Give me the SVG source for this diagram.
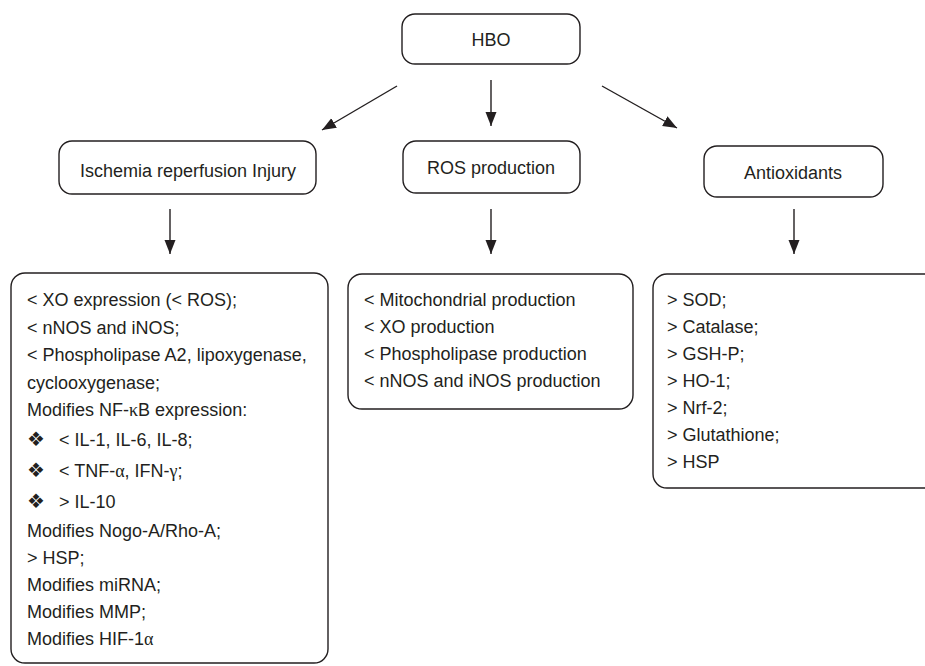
<svg xmlns="http://www.w3.org/2000/svg" width="925" height="666" viewBox="0 0 925 666">
  <defs>
    <marker id="arrow" markerUnits="userSpaceOnUse" markerWidth="15" markerHeight="12" refX="14" refY="6" orient="auto">
      <path d="M0,0.5 L14,6 L0,11.5 z" fill="#231f20"/>
    </marker>
    <style>
      .box { fill: #ffffff; stroke: #231f20; stroke-width: 1.4; }
      .lbl { font-family: "Liberation Sans", Arial, sans-serif; font-size: 18px; fill: #231f20; text-anchor: middle; }
      .txt { font-family: "Liberation Sans", Arial, sans-serif; font-size: 18px; fill: #231f20; }
      .gr { font-family: "Liberation Serif", "Times New Roman", serif; }
      .bul { font-family: "DejaVu Sans", sans-serif; font-size: 20px; }
      .conn { stroke: #231f20; stroke-width: 1.4; fill: none; marker-end: url(#arrow); }
    </style>
  </defs>
  <rect width="925" height="666" fill="#ffffff"/>

  <g id="hbo">
    <rect class="box" x="402" y="14" width="178" height="50" rx="13"/>
    <text class="lbl" x="491" y="46">HBO</text>
  </g>

  <g id="ischemia">
    <rect class="box" x="59" y="141" width="257" height="53" rx="13"/>
    <text class="lbl" x="188" y="177">Ischemia reperfusion Injury</text>
  </g>

  <g id="ros">
    <rect class="box" x="403" y="141" width="177" height="52" rx="13"/>
    <text class="lbl" x="491" y="174">ROS production</text>
  </g>

  <g id="antioxidants">
    <rect class="box" x="704" y="146" width="179" height="51" rx="13"/>
    <text class="lbl" x="793" y="179">Antioxidants</text>
  </g>

  <g id="ischemia-effects">
    <rect class="box" x="11" y="273" width="317" height="390" rx="14"/>
    <text class="txt" x="27" y="306">&lt; XO expression (&lt; ROS);</text>
    <text class="txt" x="27" y="333.5">&lt; nNOS and iNOS;</text>
    <text class="txt" x="27" y="361">&lt; Phospholipase A2, lipoxygenase,</text>
    <text class="txt" x="27" y="388.5">cyclooxygenase;</text>
    <text class="txt" x="27" y="416">Modifies NF-<tspan class="gr">κ</tspan>B expression:</text>
    <text class="txt" x="27" y="446"><tspan class="bul">❖</tspan><tspan x="59">&lt; IL-1, IL-6, IL-8;</tspan></text>
    <text class="txt" x="27" y="477"><tspan class="bul">❖</tspan><tspan x="59">&lt; TNF-<tspan class="gr">α</tspan>, IFN-<tspan class="gr">γ</tspan>;</tspan></text>
    <text class="txt" x="27" y="508"><tspan class="bul">❖</tspan><tspan x="59">&gt; IL-10</tspan></text>
    <text class="txt" x="27" y="537">Modifies Nogo-A/Rho-A;</text>
    <text class="txt" x="27" y="564">&gt; HSP;</text>
    <text class="txt" x="27" y="591">Modifies miRNA;</text>
    <text class="txt" x="27" y="618">Modifies MMP;</text>
    <text class="txt" x="27" y="645">Modifies HIF-1<tspan class="gr">α</tspan></text>
  </g>

  <g id="ros-effects">
    <rect class="box" x="348" y="274" width="285" height="135" rx="14"/>
    <text class="txt" x="364" y="306">&lt; Mitochondrial production</text>
    <text class="txt" x="364" y="333">&lt; XO production</text>
    <text class="txt" x="364" y="360">&lt; Phospholipase production</text>
    <text class="txt" x="364" y="387">&lt; nNOS and iNOS production</text>
  </g>

  <g id="antioxidant-effects">
    <rect class="box" x="653" y="274" width="290" height="214" rx="14"/>
    <text class="txt" x="667" y="306">&gt; SOD;</text>
    <text class="txt" x="667" y="333">&gt; Catalase;</text>
    <text class="txt" x="667" y="360">&gt; GSH-P;</text>
    <text class="txt" x="667" y="387">&gt; HO-1;</text>
    <text class="txt" x="667" y="414">&gt; Nrf-2;</text>
    <text class="txt" x="667" y="441">&gt; Glutathione;</text>
    <text class="txt" x="667" y="468">&gt; HSP</text>
  </g>

  <g id="connectors">
    <line class="conn" x1="397" y1="86" x2="322" y2="130"/>
    <line class="conn" x1="491" y1="80" x2="491" y2="126"/>
    <line class="conn" x1="602" y1="86" x2="677" y2="128"/>
    <line class="conn" x1="170" y1="209" x2="170" y2="254"/>
    <line class="conn" x1="491" y1="209" x2="491" y2="254"/>
    <line class="conn" x1="794" y1="209" x2="794" y2="254"/>
  </g>
</svg>
